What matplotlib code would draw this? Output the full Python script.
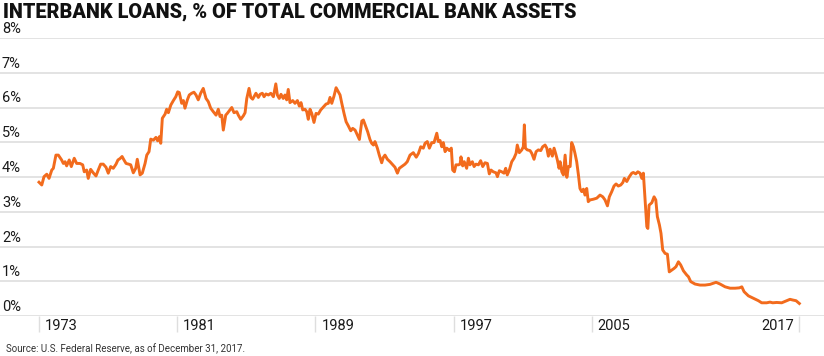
import matplotlib
matplotlib.use("Agg")
import matplotlib.pyplot as plt

# --- Data: interbank loans as % of total commercial bank assets ---
years = [
    1973.00, 1973.16, 1973.29, 1973.45, 1973.58, 1973.74, 1973.83, 1973.98, 1974.12, 1974.31,
    1974.41, 1974.51, 1974.60, 1974.75, 1974.87, 1975.04, 1975.18, 1975.37, 1975.53, 1975.62,
    1975.76, 1975.85, 1975.99, 1976.14, 1976.30, 1976.43, 1976.57, 1976.72, 1976.88, 1977.01,
    1977.15, 1977.30, 1977.46, 1977.57, 1977.69, 1977.81, 1977.92, 1978.04, 1978.19, 1978.31,
    1978.46, 1978.60, 1978.69, 1978.85, 1978.98, 1979.14, 1979.24, 1979.37, 1979.47, 1979.62,
    1979.77, 1979.87, 1979.97, 1980.05, 1980.14, 1980.30, 1980.39, 1980.49, 1980.63, 1980.78,
    1980.92, 1981.03, 1981.12, 1981.26, 1981.36, 1981.45, 1981.59, 1981.70, 1981.84, 1981.97,
    1982.09, 1982.22, 1982.36, 1982.51, 1982.67, 1982.80, 1982.94, 1983.09, 1983.25, 1983.38,
    1983.48, 1983.58, 1983.67, 1983.81, 1983.90, 1984.02, 1984.16, 1984.29, 1984.45, 1984.54,
    1984.68, 1984.83, 1984.93, 1985.03, 1985.16, 1985.26, 1985.37, 1985.47, 1985.56, 1985.70,
    1985.80, 1985.93, 1986.03, 1986.14, 1986.28, 1986.42, 1986.57, 1986.71, 1986.80, 1986.91,
    1987.01, 1987.14, 1987.24, 1987.34, 1987.43, 1987.53, 1987.69, 1987.82, 1987.96, 1988.07,
    1988.17, 1988.27, 1988.40, 1988.50, 1988.59, 1988.69, 1988.79, 1988.92, 1989.04, 1989.17,
    1989.31, 1989.46, 1989.62, 1989.75, 1989.85, 1989.95, 1990.08, 1990.20, 1990.33, 1990.43,
    1990.53, 1990.66, 1990.78, 1990.91, 1991.05, 1991.16, 1991.30, 1991.43, 1991.55, 1991.69,
    1991.78, 1991.92, 1992.03, 1992.16, 1992.26, 1992.36, 1992.45, 1992.59, 1992.70, 1992.84,
    1992.93, 1993.03, 1993.17, 1993.32, 1993.48, 1993.61, 1993.75, 1993.86, 1994.00, 1994.19,
    1994.32, 1994.48, 1994.67, 1994.84, 1994.97, 1995.10, 1995.25, 1995.35, 1995.48, 1995.60,
    1995.74, 1995.87, 1996.03, 1996.12, 1996.22, 1996.32, 1996.41, 1996.51, 1996.61, 1996.76,
    1996.87, 1996.95, 1997.05, 1997.14, 1997.28, 1997.38, 1997.43, 1997.53, 1997.62, 1997.76,
    1997.86, 1997.95, 1998.09, 1998.19, 1998.30, 1998.44, 1998.57, 1998.69, 1998.82, 1998.96,
    1999.07, 1999.17, 1999.30, 1999.46, 1999.54, 1999.65, 1999.79, 1999.92, 2000.02, 2000.11,
    2000.23, 2000.37, 2000.50, 2000.62, 2000.69, 2000.81, 2000.95, 2001.04, 2001.10, 2001.16,
    2001.27, 2001.43, 2001.53, 2001.66, 2001.78, 2001.91, 2002.05, 2002.16, 2002.30, 2002.40,
    2002.49, 2002.59, 2002.72, 2002.82, 2002.92, 2003.01, 2003.11, 2003.17, 2003.27, 2003.36,
    2003.46, 2003.56, 2003.65, 2003.75, 2003.84, 2003.94, 2004.03, 2004.13, 2004.23, 2004.32,
    2004.42, 2004.52, 2004.61, 2004.71, 2004.80, 2004.90, 2005.09, 2005.29, 2005.48, 2005.64,
    2005.77, 2005.91, 2006.02, 2006.16, 2006.29, 2006.41, 2006.54, 2006.68, 2006.80, 2006.89,
    2007.03, 2007.18, 2007.32, 2007.41, 2007.55, 2007.67, 2007.80, 2007.90, 2007.99, 2008.09,
    2008.19, 2008.25, 2008.32, 2008.48, 2008.61, 2008.71, 2008.80, 2008.92, 2009.01, 2009.11,
    2009.25, 2009.38, 2009.49, 2009.63, 2009.77, 2009.88, 2010.02, 2010.15, 2010.31, 2010.50,
    2010.60, 2010.73, 2010.98, 2011.27, 2011.56, 2011.85, 2012.20, 2012.43, 2012.72, 2013.01,
    2013.30, 2013.55, 2013.69, 2013.82, 2014.07, 2014.36, 2014.65, 2014.84, 2015.13, 2015.32,
    2015.48, 2015.71, 2016.00, 2016.29, 2016.48, 2016.64, 2016.83, 2017.02,
]
values = [
    3.85, 3.77, 4.01, 4.08, 3.96, 4.20, 4.25, 4.63, 4.63, 4.49,
    4.39, 4.44, 4.32, 4.49, 4.30, 4.54, 4.39, 4.39, 4.35, 4.15,
    4.20, 3.96, 4.22, 4.12, 4.03, 4.20, 4.37, 4.37, 4.28, 4.11,
    4.30, 4.25, 4.37, 4.49, 4.53, 4.59, 4.49, 4.39, 4.37, 4.35,
    4.12, 4.25, 4.51, 4.06, 4.11, 4.39, 4.63, 4.73, 5.09, 5.06,
    5.14, 5.04, 5.16, 4.97, 5.69, 5.81, 5.95, 5.85, 6.07, 6.20,
    6.31, 6.45, 6.43, 6.12, 6.20, 5.98, 6.22, 6.36, 6.41, 6.44,
    6.36, 6.22, 6.41, 6.55, 6.26, 6.17, 5.98, 5.88, 5.78, 5.95,
    5.74, 5.78, 5.35, 5.78, 5.83, 5.91, 6.00, 5.85, 5.88, 5.78,
    5.66, 5.76, 5.85, 6.26, 6.55, 6.29, 6.24, 6.33, 6.41, 6.29,
    6.38, 6.41, 6.31, 6.39, 6.36, 6.41, 6.31, 6.68, 6.36, 6.26,
    6.38, 6.26, 6.36, 6.22, 6.52, 6.14, 6.20, 6.12, 6.20, 6.04,
    6.14, 5.93, 5.95, 5.88, 5.66, 5.95, 5.83, 5.57, 5.83, 5.81,
    5.93, 6.01, 6.10, 6.12, 6.29, 6.12, 6.33, 6.57, 6.45, 6.36,
    6.12, 5.83, 5.59, 5.47, 5.33, 5.40, 5.35, 5.21, 5.08, 5.61,
    5.64, 5.45, 5.30, 5.08, 4.97, 4.92, 5.02, 4.83, 4.63, 4.41,
    4.56, 4.63, 4.51, 4.44, 4.35, 4.28, 4.11, 4.25, 4.30, 4.37,
    4.44, 4.63, 4.70, 4.57, 4.68, 4.87, 4.83, 4.97, 5.02, 4.83,
    4.99, 4.99, 5.26, 5.02, 5.05, 4.87, 4.99, 4.73, 4.83, 4.76,
    4.83, 4.20, 4.15, 4.35, 4.35, 4.37, 4.58, 4.32, 4.44, 4.25,
    4.54, 4.35, 4.44, 4.30, 4.37, 4.35, 4.47, 4.30, 4.41, 4.39,
    4.09, 4.20, 4.15, 4.12, 4.01, 4.18, 4.15, 4.11, 4.25, 4.06,
    4.20, 4.44, 4.54, 4.68, 4.92, 4.70, 4.78, 4.87, 5.50, 4.83,
    4.78, 4.76, 4.68, 4.51, 4.73, 4.78, 4.76, 4.87, 4.92, 4.83,
    4.60, 4.80, 4.60, 4.83, 4.66, 4.49, 4.25, 4.44, 4.15, 4.06,
    4.63, 3.99, 4.30, 4.30, 4.99, 4.87, 4.68, 4.44, 4.06, 3.67,
    3.58, 3.65, 3.48, 3.67, 3.29, 3.34, 3.36, 3.39, 3.48, 3.43,
    3.34, 3.17, 3.43, 3.58, 3.74, 3.80, 3.74, 3.77, 3.84, 3.96,
    3.87, 4.01, 4.11, 4.13, 4.09, 4.15, 4.11, 3.96, 4.11, 3.34,
    2.57, 2.52, 3.19, 3.26, 3.43, 3.34, 2.86, 2.62, 2.38, 1.90,
    1.80, 1.78, 1.27, 1.32, 1.37, 1.42, 1.56, 1.47, 1.30, 1.18,
    1.13, 0.99, 0.92, 0.89, 0.89, 0.91, 0.97, 0.92, 0.84, 0.80,
    0.80, 0.81, 0.84, 0.70, 0.58, 0.51, 0.44, 0.38, 0.38, 0.40,
    0.38, 0.39, 0.38, 0.44, 0.48, 0.46, 0.44, 0.36,
]

y_ticks = [0, 1, 2, 3, 4, 5, 6, 7, 8]
x_ticks = [1973, 1981, 1989, 1997, 2005, 2017]

ORANGE = "#F26B1D"
GRID = "#DEDEDE"
FONT = ["Roboto", "DejaVu Sans"]

fig = plt.figure(figsize=(8.24, 3.56), dpi=100)
# axes spans the whole width so the grid lines run edge to edge
ax = fig.add_axes([0, 40 / 356, 1, 278 / 356])

ax.plot(years, values, color=ORANGE, lw=2.1, solid_joinstyle="round", zorder=3)

ax.set_ylim(0, 8)
ax.set_xlim(1970.742, 2018.448)
ax.set_yticks(y_ticks)
ax.set_xticks(x_ticks)
ax.grid(axis="y", color=GRID, lw=1.2, zorder=0)
ax.tick_params(axis="y", length=0, labelleft=False)
ax.tick_params(axis="x", direction="out", length=11.5, width=1.0, color=GRID,
               labelbottom=False)
for s in ax.spines.values():
    s.set_visible(False)

# y labels sit just above their grid line at the left edge
for v in y_ticks:
    ax.annotate(f"{v}%", xy=(0, v), xycoords=("axes fraction", "data"),
                xytext=(2, 2), textcoords="offset pixels", ha="left", va="bottom",
                fontsize=10.5, family=FONT, color="#1a1a1a")

# year labels hang to the right of their tick, last one to the left
for yr in x_ticks:
    last = yr == x_ticks[-1]
    ax.annotate(str(yr), xy=(yr, 0), xycoords=("data", "axes fraction"),
                xytext=(-5 if last else 6, -3), textcoords="offset pixels",
                ha="right" if last else "left", va="top",
                fontsize=10.5, family=FONT, color="#1a1a1a")

fig.text(3 / 824, 1 - 3 / 356, "INTERBANK LOANS, % OF TOTAL COMMERCIAL BANK ASSETS",
         ha="left", va="top", fontsize=14.3, fontweight="black", family=FONT, color="#111111")
fig.text(6 / 824, 1 - 349 / 356, "Source: U.S. Federal Reserve, as of December 31, 2017.",
         ha="left", va="center", fontsize=7, family=FONT, color="#333333")

fig.savefig("out.png", dpi=100)
